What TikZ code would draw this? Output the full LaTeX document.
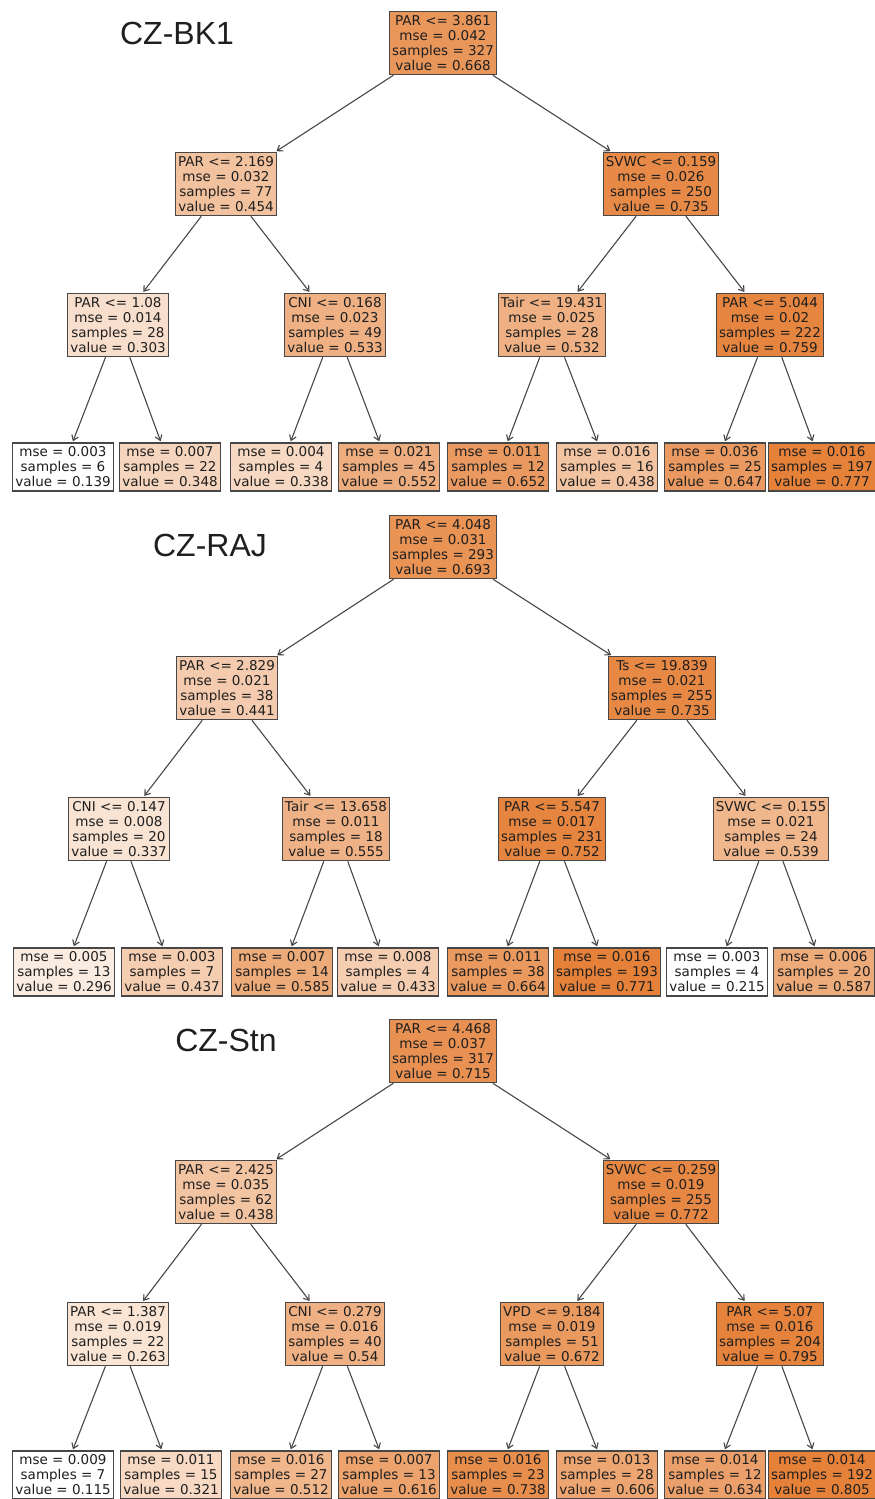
\documentclass[tikz,border=0pt]{standalone}
\usepackage{fontspec}
\setmainfont{DejaVu Sans}
\newfontfamily\titlefont{Liberation Sans}
\usetikzlibrary{arrows.meta}
\definecolor{treeorange}{HTML}{E58139}
\definecolor{edgegrey}{HTML}{474747}
\definecolor{inkgrey}{HTML}{1F1F1F}

\begin{document}
\begin{tikzpicture}[
  x=1pt, y=-1pt,
  nd/.style={draw=edgegrey, line width=1.3pt, fill=treeorange!#1!white, align=center, inner xsep=2.5pt, inner ysep=4pt, font=\fontsize{13.5}{15}\selectfont, text=inkgrey},
  arr/.style={-{Straight Barb[length=5pt,width=7pt]}, edgegrey, line width=1.1pt, shorten >=1pt},
  site/.style={font=\titlefont\fontsize{32}{36}\selectfont, text=inkgrey}
]
\useasboundingbox (0,0) rectangle (875,1499);
\clip (0,0) rectangle (875,1499);

% CZ-BK1
\node[site] (bktitle) at (177,33) {CZ-BK1};
\node[nd=83] (bkroot) at (443,43) {PAR <= 3.861\\mse = 0.042\\samples = 327\\value = 0.668};
\node[nd=49] (bkl) at (226,184) {PAR <= 2.169\\mse = 0.032\\samples = 77\\value = 0.454};
\node[nd=93] (bkr) at (661,184) {SVWC <= 0.159\\mse = 0.026\\samples = 250\\value = 0.735};
\node[nd=26] (bkll) at (118,325) {PAR <= 1.08\\mse = 0.014\\samples = 28\\value = 0.303};
\node[nd=62] (bklr) at (335,325) {CNI <= 0.168\\mse = 0.023\\samples = 49\\value = 0.533};
\node[nd=62] (bkrl) at (552,325) {Tair <= 19.431\\mse = 0.025\\samples = 28\\value = 0.532};
\node[nd=97] (bkrr) at (770,325) {PAR <= 5.044\\mse = 0.02\\samples = 222\\value = 0.759};
\node[nd=0] (bk1) at (63,467) {mse = 0.003\\samples = 6\\value = 0.139};
\node[nd=33] (bk2) at (170,467) {mse = 0.007\\samples = 22\\value = 0.348};
\node[nd=31] (bk3) at (281,467) {mse = 0.004\\samples = 4\\value = 0.338};
\node[nd=65] (bk4) at (389,467) {mse = 0.021\\samples = 45\\value = 0.552};
\node[nd=80] (bk5) at (498,467) {mse = 0.011\\samples = 12\\value = 0.652};
\node[nd=47] (bk6) at (607,467) {mse = 0.016\\samples = 16\\value = 0.438};
\node[nd=80] (bk7) at (715,467) {mse = 0.036\\samples = 25\\value = 0.647};
\node[nd=100] (bk8) at (822,467) {mse = 0.016\\samples = 197\\value = 0.777};

\draw[arr] (bkroot)--(bkl); \draw[arr] (bkroot)--(bkr);
\draw[arr] (bkl)--(bkll); \draw[arr] (bkl)--(bklr); \draw[arr] (bkr)--(bkrl); \draw[arr] (bkr)--(bkrr);
\draw[arr] (bkll)--(bk1); \draw[arr] (bkll)--(bk2); \draw[arr] (bklr)--(bk3); \draw[arr] (bklr)--(bk4);
\draw[arr] (bkrl)--(bk5); \draw[arr] (bkrl)--(bk6); \draw[arr] (bkrr)--(bk7); \draw[arr] (bkrr)--(bk8);

% CZ-RAJ
\begin{scope}[yshift=-504pt]
\node[site] (rajtitle) at (210,41) {CZ-RAJ};
\node[nd=86] (rajroot) at (443,43) {PAR <= 4.048\\mse = 0.031\\samples = 293\\value = 0.693};
\node[nd=41] (rajl) at (227,184) {PAR <= 2.829\\mse = 0.021\\samples = 38\\value = 0.441};
\node[nd=94] (rajr) at (662,184) {Ts <= 19.839\\mse = 0.021\\samples = 255\\value = 0.735};
\node[nd=22] (rajll) at (119,325) {CNI <= 0.147\\mse = 0.008\\samples = 20\\value = 0.337};
\node[nd=61] (rajlr) at (336,325) {Tair <= 13.658\\mse = 0.011\\samples = 18\\value = 0.555};
\node[nd=97] (rajrl) at (552,325) {PAR <= 5.547\\mse = 0.017\\samples = 231\\value = 0.752};
\node[nd=58] (rajrr) at (771,325) {SVWC <= 0.155\\mse = 0.021\\samples = 24\\value = 0.539};
\node[nd=15] (raj1) at (64,468) {mse = 0.005\\samples = 13\\value = 0.296};
\node[nd=40] (raj2) at (172,468) {mse = 0.003\\samples = 7\\value = 0.437};
\node[nd=67] (raj3) at (282,468) {mse = 0.007\\samples = 14\\value = 0.585};
\node[nd=39] (raj4) at (388,468) {mse = 0.008\\samples = 4\\value = 0.433};
\node[nd=81] (raj5) at (498,468) {mse = 0.011\\samples = 38\\value = 0.664};
\node[nd=100] (raj6) at (607,468) {mse = 0.016\\samples = 193\\value = 0.771};
\node[nd=0] (raj7) at (717,468) {mse = 0.003\\samples = 4\\value = 0.215};
\node[nd=67] (raj8) at (824,468) {mse = 0.006\\samples = 20\\value = 0.587};

\draw[arr] (rajroot)--(rajl); \draw[arr] (rajroot)--(rajr);
\draw[arr] (rajl)--(rajll); \draw[arr] (rajl)--(rajlr); \draw[arr] (rajr)--(rajrl); \draw[arr] (rajr)--(rajrr);
\draw[arr] (rajll)--(raj1); \draw[arr] (rajll)--(raj2); \draw[arr] (rajlr)--(raj3); \draw[arr] (rajlr)--(raj4);
\draw[arr] (rajrl)--(raj5); \draw[arr] (rajrl)--(raj6); \draw[arr] (rajrr)--(raj7); \draw[arr] (rajrr)--(raj8);
\end{scope}

% CZ-Stn
\begin{scope}[yshift=-1008pt]
\node[site] (stntitle) at (226,32) {CZ-Stn};
\node[nd=87] (stnroot) at (443,43) {PAR <= 4.468\\mse = 0.037\\samples = 317\\value = 0.715};
\node[nd=47] (stnl) at (226,184) {PAR <= 2.425\\mse = 0.035\\samples = 62\\value = 0.438};
\node[nd=95] (stnr) at (661,184) {SVWC <= 0.259\\mse = 0.019\\samples = 255\\value = 0.772};
\node[nd=21] (stnll) at (118,326) {PAR <= 1.387\\mse = 0.019\\samples = 22\\value = 0.263};
\node[nd=62] (stnlr) at (335,326) {CNI <= 0.279\\mse = 0.016\\samples = 40\\value = 0.54};
\node[nd=81] (stnrl) at (552,326) {VPD <= 9.184\\mse = 0.019\\samples = 51\\value = 0.672};
\node[nd=99] (stnrr) at (770,326) {PAR <= 5.07\\mse = 0.016\\samples = 204\\value = 0.795};
\node[nd=0] (stn1) at (63,467) {mse = 0.009\\samples = 7\\value = 0.115};
\node[nd=30] (stn2) at (171,467) {mse = 0.011\\samples = 15\\value = 0.321};
\node[nd=58] (stn3) at (281,467) {mse = 0.016\\samples = 27\\value = 0.512};
\node[nd=73] (stn4) at (389,467) {mse = 0.007\\samples = 13\\value = 0.616};
\node[nd=90] (stn5) at (498,467) {mse = 0.016\\samples = 23\\value = 0.738};
\node[nd=71] (stn6) at (607,467) {mse = 0.013\\samples = 28\\value = 0.606};
\node[nd=75] (stn7) at (715,467) {mse = 0.014\\samples = 12\\value = 0.634};
\node[nd=100] (stn8) at (822,467) {mse = 0.014\\samples = 192\\value = 0.805};

\draw[arr] (stnroot)--(stnl); \draw[arr] (stnroot)--(stnr);
\draw[arr] (stnl)--(stnll); \draw[arr] (stnl)--(stnlr); \draw[arr] (stnr)--(stnrl); \draw[arr] (stnr)--(stnrr);
\draw[arr] (stnll)--(stn1); \draw[arr] (stnll)--(stn2); \draw[arr] (stnlr)--(stn3); \draw[arr] (stnlr)--(stn4);
\draw[arr] (stnrl)--(stn5); \draw[arr] (stnrl)--(stn6); \draw[arr] (stnrr)--(stn7); \draw[arr] (stnrr)--(stn8);
\end{scope}
\end{tikzpicture}
\end{document}
